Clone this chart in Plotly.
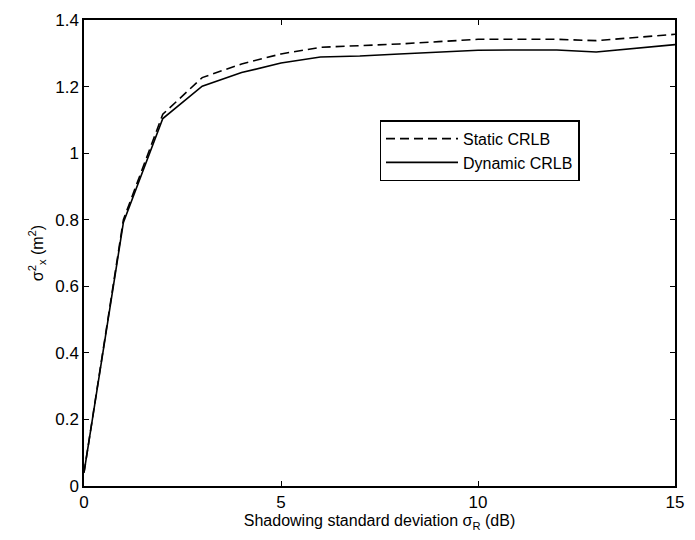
import plotly.graph_objects as go

x_vals = list(range(16))
static_crlb = [0.04, 0.80, 1.117, 1.227, 1.268, 1.298, 1.318, 1.322, 1.328, 1.335, 1.342, 1.342, 1.342, 1.338, 1.348, 1.357]
dynamic_crlb = [0.04, 0.792, 1.104, 1.201, 1.242, 1.271, 1.289, 1.292, 1.298, 1.304, 1.309, 1.310, 1.310, 1.304, 1.314, 1.326]

x_ticks = [0, 5, 10, 15]
y_ticks = [0, 0.2, 0.4, 0.6, 0.8, 1.0, 1.2, 1.4]
y_tick_text = ["0", "0.2", "0.4", "0.6", "0.8", "1", "1.2", "1.4"]

fig = go.Figure()
fig.add_trace(go.Scatter(x=x_vals, y=static_crlb, mode="lines", name="Static CRLB",
                         line=dict(color="black", width=1.6, dash="9px,5px")))
fig.add_trace(go.Scatter(x=x_vals, y=dynamic_crlb, mode="lines", name="Dynamic CRLB",
                         line=dict(color="black", width=1.6)))

font_family = "Liberation Sans, Arial, sans-serif"
axis_common = dict(showgrid=False, zeroline=False, showline=True, linecolor="black", linewidth=1.5,
                   mirror="ticks", ticks="inside", ticklen=5, tickcolor="black", tickwidth=1.2,
                   tickfont=dict(family=font_family, size=17, color="black"))

fig.update_layout(
    width=695, height=540,
    margin=dict(l=84, r=11, t=16, b=54),
    paper_bgcolor="white", plot_bgcolor="white",
    font=dict(family=font_family, color="black"),
    xaxis=dict(range=[0, 15], tickvals=x_ticks, ticktext=[str(v) for v in x_ticks],
               title=dict(text="Shadowing standard deviation σ<sub>R</sub> (dB)",
                          font=dict(family=font_family, size=16), standoff=2),
               **axis_common),
    yaxis=dict(range=[0, 1.4], tickvals=y_ticks, ticktext=y_tick_text,
               title=dict(text="σ<sup>2</sup><sub>x</sub> (m<sup>2</sup>)",
                          font=dict(family=font_family, size=16), standoff=8),
               **axis_common),
    legend=dict(x=0.5, y=0.785, xanchor="left", yanchor="top",
                bgcolor="white", bordercolor="black", borderwidth=1.5,
                font=dict(family=font_family, size=16, color="black"),
                tracegroupgap=0, itemwidth=72),
    showlegend=True,
)

fig.write_html("out.html")
